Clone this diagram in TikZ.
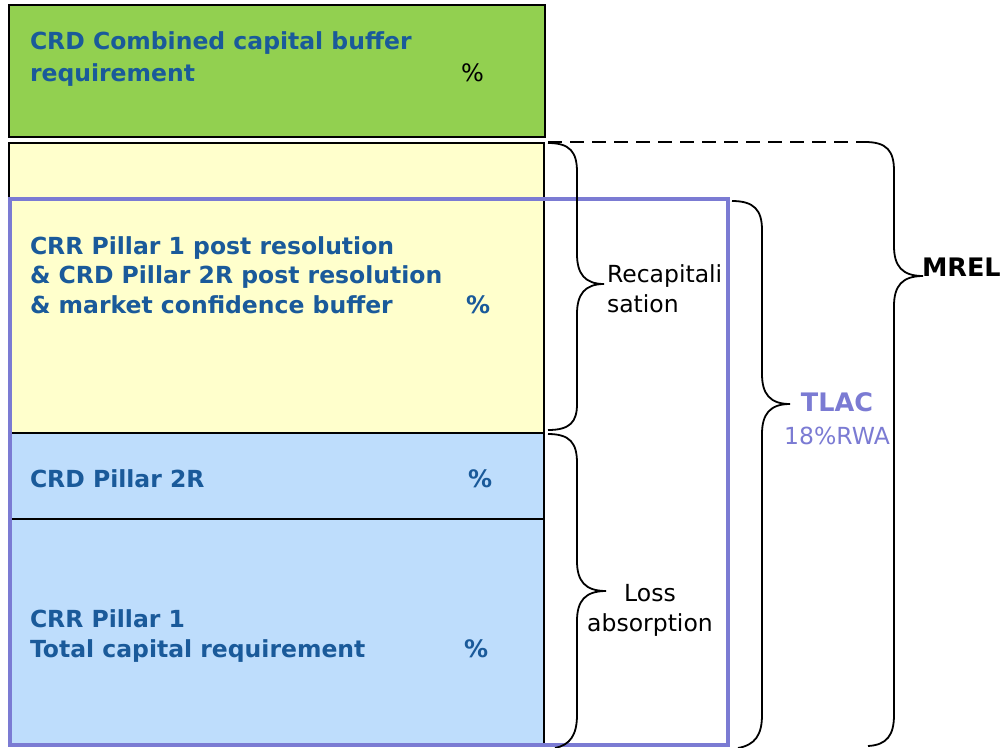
\documentclass[tikz,border=0pt]{standalone}
\usepackage{fontspec}
\setmainfont{DejaVu Sans}
\definecolor{boxgreen}{HTML}{92D050}
\definecolor{boxyellow}{HTML}{FFFFCC}
\definecolor{boxblue}{HTML}{BEDDFC}
\definecolor{txtblue}{HTML}{1A5A9A}
\definecolor{tlacpurple}{HTML}{7B7BD3}
\tikzset{
  box/.style={draw=black, line width=1.8pt, inner sep=0pt, outer sep=0pt, anchor=north west},
  lbl/.style={inner sep=0pt, outer sep=0pt, align=left, font=\fontsize{23.5}{29.5}\selectfont},
  blbl/.style={lbl, font=\fontsize{23.5}{29.5}\selectfont\bfseries, text=txtblue},
  pct/.style={inner sep=0pt, outer sep=0pt, anchor=base west, font=\fontsize{24}{29.5}\selectfont},
  bpct/.style={pct, font=\fontsize{24}{29.5}\selectfont\bfseries, text=txtblue},
  brace/.style={draw=black, line width=1.8pt},
}
\begin{document}
\begin{tikzpicture}[x=1pt,y=-1pt]
\useasboundingbox (0,0) rectangle (1001,747);
% boxes
\node[box, fill=boxgreen, minimum width=536pt, minimum height=132pt] (green) at (9,5) {};
\node[box, fill=boxyellow, minimum width=535pt, minimum height=290pt] (yellow) at (9,143) {};
\node[box, fill=boxblue, minimum width=535pt, minimum height=86pt] (blueA) at (9,433) {};
\node[box, fill=boxblue, minimum width=535pt, minimum height=226pt] (blueB) at (9,519) {};
% TLAC frame
\node[draw=tlacpurple, line width=4pt, inner sep=0pt, outer sep=0pt, anchor=north west, minimum width=718pt, minimum height=546pt] (tlacbox) at (10,199) {};
% box texts (base anchor = baseline of last line)
\node[blbl, anchor=base west] (tgreen) at (30,81) {CRD Combined capital buffer\\[2.5pt]requirement};
\node[pct] (pgreen) at (461,81) {\%};
\node[blbl, anchor=base west] (tyellow) at (30,313) {CRR Pillar 1 post resolution\\\& CRD Pillar 2R post resolution\\\& market confidence buffer};
\node[bpct] (pyellow) at (466,313) {\%};
\node[blbl, anchor=base west] (tblueA) at (30,487) {CRD Pillar 2R};
\node[bpct] (pblueA) at (468,487) {\%};
\node[blbl, anchor=base west] (tblueB) at (30,657) {CRR Pillar 1\\Total capital requirement};
\node[bpct] (pblueB) at (464,657) {\%};
% braces
\draw[brace] (548,143) .. controls (570,143) and (577,152) .. (577,172) -- (577,254)
  .. controls (577,274) and (585,284) .. (604,284)
  .. controls (585,284) and (577,294) .. (577,314) -- (577,404)
  .. controls (577,422) and (570,430) .. (548,430);
\draw[brace] (548,434) .. controls (570,434) and (577,443) .. (577,463) -- (577,561)
  .. controls (577,581) and (585,591) .. (606,591)
  .. controls (585,591) and (577,601) .. (577,621) -- (577,715)
  .. controls (577,735) and (570,745) .. (555,748);
\draw[brace] (732,201) .. controls (754,201) and (762,210) .. (762,230) -- (762,374)
  .. controls (762,394) and (770,404) .. (790,404)
  .. controls (770,404) and (762,414) .. (762,434) -- (762,715)
  .. controls (762,735) and (755,745) .. (738,748);
\draw[brace] (865,142) .. controls (887,142) and (894,151) .. (894,171) -- (894,246)
  .. controls (894,266) and (902,276) .. (923,276)
  .. controls (902,276) and (894,286) .. (894,306) -- (894,715)
  .. controls (894,735) and (887,745) .. (868,746);
\draw[line width=1.5pt, dash pattern=on 14pt off 8pt] (548,142) -- (865,142);
% brace labels
\node[lbl, anchor=base west] (recap) at (607,312) {Recapitali\\sation};
\node[lbl, anchor=base, align=center] (loss) at (650,631) {Loss\\absorption};
\node[lbl, anchor=base, align=center, text=tlacpurple] (tlac) at (837,444) {{\fontsize{25.5}{29.5}\selectfont\bfseries TLAC}\\[3.5pt]18\%RWA};
\node[lbl, anchor=base west, font=\fontsize{25.5}{29.5}\selectfont\bfseries] (mrel) at (922,276) {MREL};
\end{tikzpicture}
\end{document}
